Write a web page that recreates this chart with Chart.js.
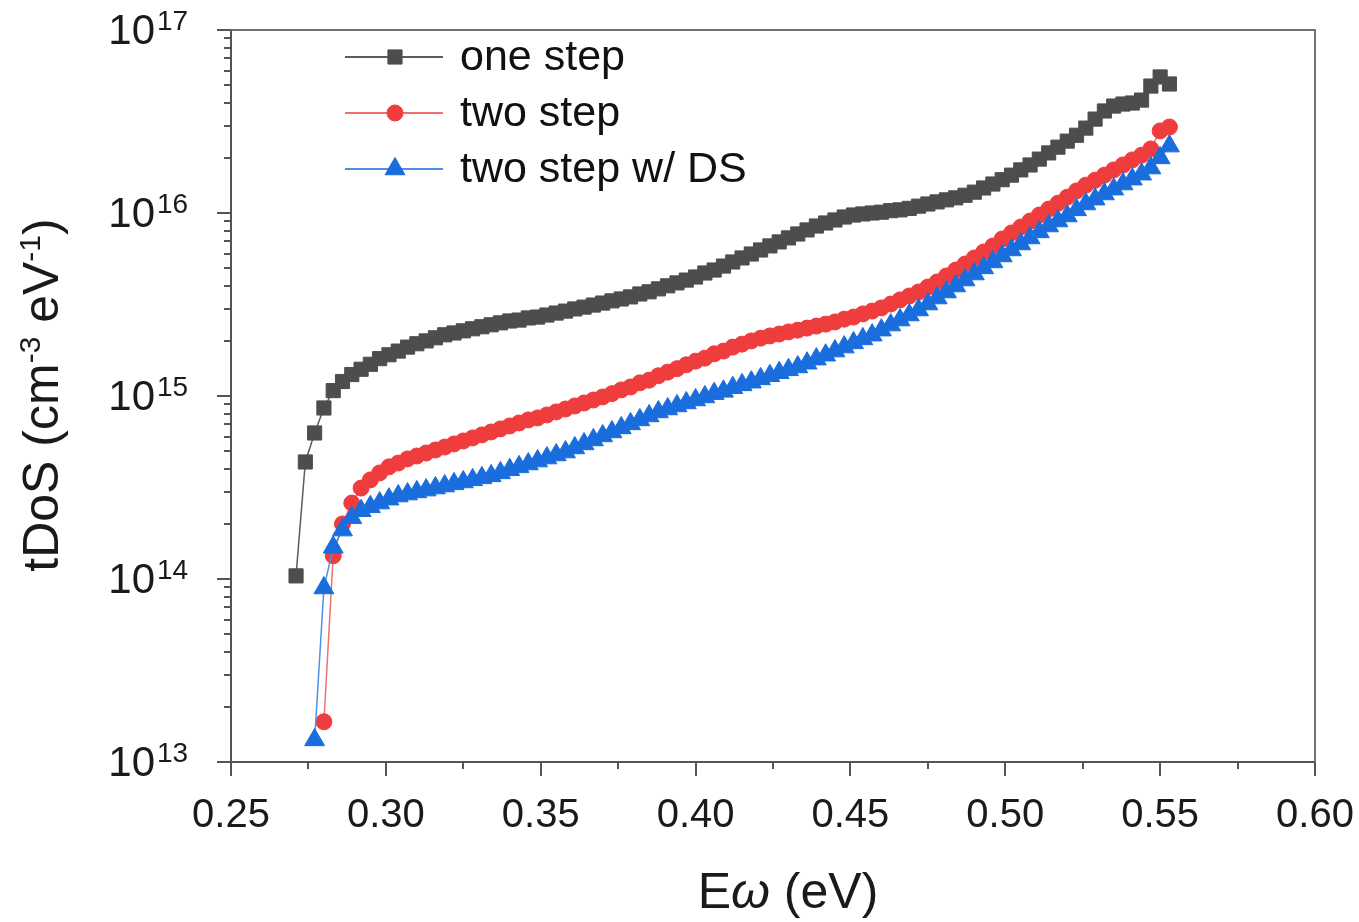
<!DOCTYPE html>
<html><head><meta charset="utf-8">
<script src="https://cdn.jsdelivr.net/npm/chart.js@4.4.1/dist/chart.umd.min.js"></script>
<style>html,body{margin:0;padding:0;background:#fff;overflow:hidden}</style>
</head><body>
<canvas id="c" width="1359" height="922"></canvas>
<script>
const energy = [
0.271,0.274,0.277,0.280,0.283,0.286,0.289,0.292,0.295,0.298,
0.301,0.304,0.307,0.310,0.313,0.316,0.319,0.322,0.325,0.328,
0.331,0.334,0.337,0.340,0.343,0.346,0.349,0.352,0.355,0.358,
0.361,0.364,0.367,0.370,0.373,0.376,0.379,0.382,0.385,0.388,
0.391,0.394,0.397,0.400,0.403,0.406,0.409,0.412,0.415,0.418,
0.421,0.424,0.427,0.430,0.433,0.436,0.439,0.442,0.445,0.448,
0.451,0.454,0.457,0.460,0.463,0.466,0.469,0.472,0.475,0.478,
0.481,0.484,0.487,0.490,0.493,0.496,0.499,0.502,0.505,0.508,
0.511,0.514,0.517,0.520,0.523,0.526,0.529,0.532,0.535,0.538,
0.541,0.544,0.547,0.550,0.553];
const oneStep = [
1.04e14,4.36e14,6.28e14,8.60e14,1.07e15,1.20e15,1.31e15,1.40e15,1.49e15,1.60e15,
1.68e15,1.76e15,1.85e15,1.93e15,2.00e15,2.08e15,2.16e15,2.21e15,2.27e15,2.33e15,
2.39e15,2.45e15,2.51e15,2.57e15,2.60e15,2.67e15,2.70e15,2.77e15,2.84e15,2.91e15,
2.99e15,3.06e15,3.14e15,3.22e15,3.31e15,3.39e15,3.48e15,3.61e15,3.71e15,3.85e15,
4.00e15,4.15e15,4.30e15,4.47e15,4.70e15,4.88e15,5.13e15,5.40e15,5.68e15,5.97e15,
6.28e15,6.61e15,6.95e15,7.31e15,7.68e15,8.08e15,8.49e15,8.82e15,9.16e15,9.51e15,
9.75e15,9.88e15,1.00e16,1.01e16,1.03e16,1.04e16,1.06e16,1.09e16,1.12e16,1.15e16,
1.18e16,1.21e16,1.25e16,1.30e16,1.37e16,1.44e16,1.52e16,1.61e16,1.72e16,1.83e16,
1.97e16,2.13e16,2.29e16,2.47e16,2.66e16,2.91e16,3.26e16,3.61e16,3.84e16,3.94e16,
3.99e16,4.14e16,4.94e16,5.54e16,5.07e16];
const twoStep = [
null,null,null,1.66e13,1.34e14,2.00e14,2.60e14,3.14e14,3.48e14,3.80e14,
4.10e14,4.30e14,4.53e14,4.70e14,4.88e14,5.07e14,5.26e14,5.47e14,5.68e14,5.90e14,
6.13e14,6.36e14,6.61e14,6.86e14,7.12e14,7.40e14,7.59e14,7.88e14,8.18e14,8.49e14,
8.82e14,9.16e14,9.51e14,9.88e14,1.03e15,1.08e15,1.12e15,1.18e15,1.22e15,1.29e15,
1.35e15,1.41e15,1.48e15,1.55e15,1.61e15,1.70e15,1.76e15,1.85e15,1.92e15,2.00e15,
2.07e15,2.13e15,2.18e15,2.24e15,2.29e15,2.35e15,2.41e15,2.47e15,2.54e15,2.63e15,
2.70e15,2.81e15,2.91e15,3.03e15,3.18e15,3.35e15,3.52e15,3.70e15,3.94e15,4.20e15,
4.53e15,4.88e15,5.26e15,5.68e15,6.12e15,6.60e15,7.21e15,7.78e15,8.38e15,9.04e15,
9.75e15,1.05e16,1.13e16,1.22e16,1.32e16,1.42e16,1.51e16,1.61e16,1.72e16,1.83e16,
1.95e16,2.07e16,2.24e16,2.81e16,2.95e16];
const twoStepDS = [
null,null,1.32e13,8.93e13,1.49e14,1.85e14,2.16e14,2.36e14,2.48e14,2.60e14,
2.73e14,2.84e14,2.91e14,2.99e14,3.06e14,3.14e14,3.22e14,3.31e14,3.39e14,3.48e14,
3.57e14,3.66e14,3.80e14,3.95e14,4.10e14,4.25e14,4.41e14,4.58e14,4.76e14,4.94e14,
5.20e14,5.47e14,5.75e14,6.05e14,6.36e14,6.69e14,7.04e14,7.40e14,7.78e14,8.18e14,
8.49e14,8.82e14,9.16e14,9.51e14,9.88e14,1.03e15,1.06e15,1.11e15,1.15e15,1.19e15,
1.24e15,1.29e15,1.34e15,1.39e15,1.44e15,1.51e15,1.59e15,1.67e15,1.76e15,1.85e15,
1.95e15,2.05e15,2.15e15,2.29e15,2.44e15,2.60e15,2.77e15,2.95e15,3.18e15,3.43e15,
3.70e15,3.99e15,4.30e15,4.64e15,5.01e15,5.40e15,5.82e15,6.28e15,6.77e15,7.30e15,
7.88e15,8.49e15,9.04e15,9.63e15,1.04e16,1.12e16,1.19e16,1.27e16,1.35e16,1.44e16,
1.53e16,1.63e16,1.76e16,2.00e16,2.32e16];
const seriesLabels = ['one step', 'two step', 'two step w/ DS'];
const xTickValues = [0.25, 0.30, 0.35, 0.40, 0.45, 0.50, 0.55, 0.60];
const xMinorTickValues = [0.275, 0.325, 0.375, 0.425, 0.475, 0.525, 0.575];
const yDecadeExponents = [13, 14, 15, 16, 17];
const xTitle = ['E', 'ω', ' (eV)'];
const yTitle = ['tDoS (cm', '-3', ' eV', '-1', ')'];

const FONT = '"Liberation Sans", Arial, "DejaVu Sans", sans-serif';

function points(vals) {
  return energy.map((e, i) => ({x: e, y: vals[i]})).filter(p => p.y !== null);
}

const styles = [
  {line: '#5c5c5c', fill: '#4d4d4d', shape: 'rect', r: 10},
  {line: '#f07070', fill: '#ef3d3d', shape: 'circle', r: 8},
  {line: '#4f8fe6', fill: '#1a6ddd', shape: 'triangle', r: 11.5}
];

const decorations = {
  id: 'decorations',
  afterDraw(chart) {
    const {ctx, chartArea: a, scales: {x, y}} = chart;
    ctx.save();
    ctx.strokeStyle = '#707070'; ctx.lineWidth = 2;
    ctx.beginPath(); ctx.moveTo(a.left, a.top); ctx.lineTo(a.right, a.top); ctx.lineTo(a.right, a.bottom); ctx.stroke();
    ctx.strokeStyle = '#555'; ctx.lineWidth = 2;
    const seg = (x1, y1, x2, y2) => { ctx.beginPath(); ctx.moveTo(x1, y1); ctx.lineTo(x2, y2); ctx.stroke(); };
    xTickValues.forEach(v => { const p = Math.round(x.getPixelForValue(v)); seg(p, a.bottom, p, a.bottom + 14); });
    xMinorTickValues.forEach(v => { const p = Math.round(x.getPixelForValue(v)); seg(p, a.bottom, p, a.bottom + 7); });
    yDecadeExponents.forEach(d => {
      const p = Math.round(y.getPixelForValue(Math.pow(10, d)));
      seg(a.left - 14, p, a.left, p);
      if (d < 17) for (let m = 2; m <= 9; m++) {
        const q = Math.round(y.getPixelForValue(m * Math.pow(10, d)));
        seg(a.left - 7, q, a.left, q);
      }
    });
    ctx.fillStyle = '#1a1a1a';
    ctx.textBaseline = 'middle';
    yDecadeExponents.forEach(d => {
      const p = y.getPixelForValue(Math.pow(10, d));
      ctx.font = '28px ' + FONT; ctx.textAlign = 'left';
      ctx.fillText(String(d), 157, p - 8);
      ctx.font = '42px ' + FONT; ctx.textAlign = 'right';
      ctx.fillText('10', 155, p + 2);
    });
    ctx.textBaseline = 'alphabetic'; ctx.textAlign = 'left';
    const fN = '50px ' + FONT, fI = 'italic 50px ' + FONT;
    const parts = [[xTitle[0], fN], [xTitle[1], fI], [xTitle[2], fN]];
    let w = 0; parts.forEach(([t, f]) => { ctx.font = f; w += ctx.measureText(t).width; });
    let cx = 788 - w / 2;
    parts.forEach(([t, f]) => { ctx.font = f; ctx.fillText(t, cx, 908); cx += ctx.measureText(t).width; });
    ctx.save();
    ctx.translate(58, 395); ctx.rotate(-Math.PI / 2);
    const yp = yTitle.map((t, i) => [t, i % 2 === 1]);
    let tw = 0; yp.forEach(([t, sup]) => { ctx.font = (sup ? '30px ' : '50px ') + FONT; tw += ctx.measureText(t).width; });
    let tx = -tw / 2;
    yp.forEach(([t, sup]) => { ctx.font = (sup ? '30px ' : '50px ') + FONT; ctx.fillText(t, tx, sup ? -18 : 0); tx += ctx.measureText(t).width; });
    ctx.restore();
    seriesLabels.forEach((lab, i) => {
      const ry = 57 + i * 56, st = styles[i];
      ctx.strokeStyle = st.line; ctx.lineWidth = 2;
      seg(345, ry, 443, ry);
      ctx.fillStyle = st.fill; ctx.strokeStyle = st.fill; ctx.lineWidth = 1;
      Chart.helpers.drawPoint(ctx, {pointStyle: st.shape, radius: st.r, rotation: 0, borderWidth: 1}, 395, ry);
      ctx.fillStyle = '#111'; ctx.font = '43px ' + FONT; ctx.textAlign = 'left'; ctx.textBaseline = 'middle';
      ctx.fillText(lab, 460, ry + 1);
    });
    ctx.restore();
  }
};

const seriesData = [oneStep, twoStep, twoStepDS];
new Chart(document.getElementById('c'), {
  type: 'line',
  data: {
    datasets: seriesData.map((vals, i) => ({
      label: seriesLabels[i],
      data: points(vals),
      borderColor: styles[i].line,
      borderWidth: 1.5,
      pointStyle: styles[i].shape,
      pointRadius: styles[i].r,
      pointBackgroundColor: styles[i].fill,
      pointBorderColor: styles[i].fill,
      pointBorderWidth: 1,
      tension: 0,
      fill: false,
      order: 3 - i
    }))
  },
  options: {
    responsive: false,
    animation: false,
    devicePixelRatio: 1,
    layout: {padding: {top: 30, right: 44, left: 0, bottom: 0}},
    plugins: {legend: {display: false}, tooltip: {enabled: false}},
    scales: {
      x: {
        type: 'linear', min: 0.25, max: 0.60,
        afterFit: s => { s.height = 160; s.paddingLeft = 0; s.paddingRight = 0; },
        afterBuildTicks: s => { s.ticks = xTickValues.map(v => ({value: v})); },
        ticks: {callback: v => v.toFixed(2), font: {size: 40, family: FONT}, color: '#1a1a1a', padding: 30, maxRotation: 0, autoSkip: false},
        grid: {display: false, drawTicks: false},
        border: {display: true, color: '#555', width: 2}
      },
      y: {
        type: 'logarithmic', min: 1e13, max: 1e17,
        afterFit: s => { s.width = 231; s.paddingTop = 0; s.paddingBottom = 0; },
        ticks: {display: false},
        grid: {display: false, drawTicks: false},
        border: {display: true, color: '#555', width: 2}
      }
    }
  },
  plugins: [decorations]
});
</script>
</body></html>
